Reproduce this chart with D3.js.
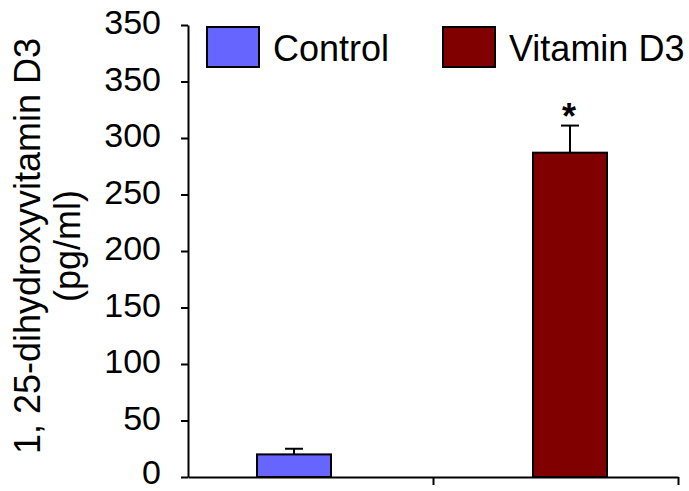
<!DOCTYPE html>
<html>
<head>
<meta charset="utf-8">
<script src="https://cdn.jsdelivr.net/npm/d3@7"></script>
<style>
  body { margin: 0; background: #fff; }
  text { font-family: "Liberation Sans", Arial, sans-serif; fill: #000; }
</style>
</head>
<body>
<script>
// data
var groups = ["Control", "Vitamin D3"]
var means = [20, 287]
var errs = [5, 24]
var colors = ["#6666ff", "#800000"]
var signif = ["", "*"]
var yTicks = [0, 50, 100, 150, 200, 250, 300, 350, 400]
var yTickLabels = ["0", "50", "100", "150", "200", "250", "300", "350", "350"]
var yTitle = ["1, 25-dihydroxyvitamin D3", "(pg/ml)"]

svg_w = 689
svg_h = 491

var svg = d3.select("body")
    .append("svg")
    .attr("width", svg_w)
    .attr("height", svg_h)

var x0 = 188, x1 = 678, yb = 477, yt = 25

var yscale = d3.scaleLinear().domain([0, 400]).range([yb, yt])
// category axis (two categories, tick at each boundary)
var xaxis_scale = d3.scaleLinear().domain([0, 2]).range([x0, x1])
// bar centres
var xscale = d3.scalePoint().domain(groups).range([294, 570])
var barW = 74

// bars
svg.selectAll("rect.bar")
    .data(groups)
    .enter()
    .append("rect")
    .attr("class", "bar")
    .attr("x", d => xscale(d) - barW / 2)
    .attr("y", (d, i) => yscale(means[i]))
    .attr("width", barW)
    .attr("height", (d, i) => yscale(0) - yscale(means[i]))
    .attr("fill", (d, i) => colors[i])
    .attr("stroke", "#000")
    .attr("stroke-width", 2)

// error bars (upper only)
var eb = svg.selectAll("g.err")
    .data(groups)
    .enter()
    .append("g")
    .attr("class", "err")
eb.append("line")
    .attr("x1", d => xscale(d)).attr("x2", d => xscale(d))
    .attr("y1", (d, i) => yscale(means[i]))
    .attr("y2", (d, i) => yscale(means[i] + errs[i]))
    .attr("stroke", "#000").attr("stroke-width", 2)
eb.append("line")
    .attr("x1", d => xscale(d) - 9).attr("x2", d => xscale(d) + 9)
    .attr("y1", (d, i) => yscale(means[i] + errs[i]))
    .attr("y2", (d, i) => yscale(means[i] + errs[i]))
    .attr("stroke", "#000").attr("stroke-width", 2)

// significance marks
svg.selectAll("text.sig")
    .data(groups)
    .enter()
    .append("text")
    .attr("class", "sig")
    .attr("x", d => xscale(d) - 1)
    .attr("y", (d, i) => yscale(means[i] + errs[i]) + 3)
    .attr("text-anchor", "middle")
    .attr("font-size", 36)
    .attr("font-weight", "bold")
    .text((d, i) => signif[i])

// y axis
var yAxis = svg.append("g")
    .attr("transform", "translate(" + x0 + ",0)")
    .call(d3.axisLeft(yscale)
        .tickValues(yTicks)
        .tickFormat((d, i) => yTickLabels[i])
        .tickSize(7)
        .tickPadding(20)
        .tickSizeOuter(0))
yAxis.select(".domain").attr("stroke", "#000").attr("stroke-width", 2)
yAxis.selectAll(".tick line").attr("stroke", "#000").attr("stroke-width", 2)
yAxis.selectAll(".tick text")
    .attr("font-size", 34)
    .attr("dy", d => d == 0 ? "0.19em" : "0.26em")
    .attr("font-family", "Liberation Sans, Arial, sans-serif")
    .attr("fill", "#000")

// x axis
var xAxis = svg.append("g")
    .attr("transform", "translate(0," + yb + ")")
    .call(d3.axisBottom(xaxis_scale)
        .tickValues([1, 2])
        .tickFormat("")
        .tickSize(8)
        .tickSizeOuter(0))
xAxis.select(".domain").attr("stroke", "#000").attr("stroke-width", 2)
xAxis.selectAll(".tick line").attr("stroke", "#000").attr("stroke-width", 2)

// y title, two lines
svg.append("text")
    .attr("transform", "translate(40,246) rotate(-90)")
    .attr("text-anchor", "middle")
    .attr("font-size", 36)
    .selectAll("tspan")
    .data(yTitle)
    .enter()
    .append("tspan")
    .attr("x", 0)
    .attr("y", (d, i) => i * 40)
    .text(d => d)

// legend
var legX = [207, 443]
var leg = svg.selectAll("g.leg")
    .data(groups)
    .enter()
    .append("g")
    .attr("class", "leg")
    .attr("transform", (d, i) => "translate(" + legX[i] + ",27)")
leg.append("rect")
    .attr("width", 52)
    .attr("height", 40)
    .attr("fill", (d, i) => colors[i])
    .attr("stroke", "#000")
    .attr("stroke-width", 2)
leg.append("text")
    .attr("x", 66)
    .attr("y", 34)
    .attr("font-size", 36)
    .text(d => d)
</script>
</body>
</html>
